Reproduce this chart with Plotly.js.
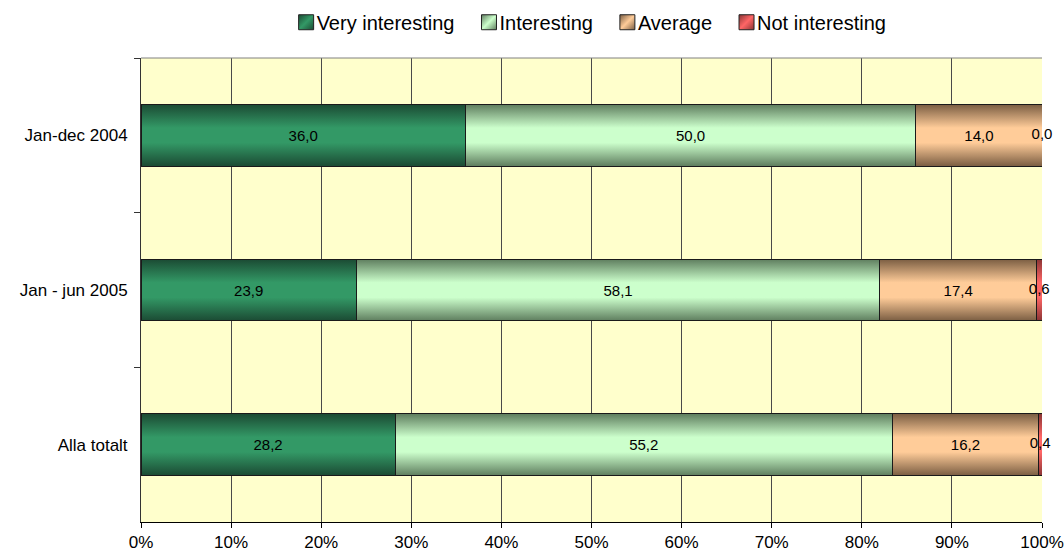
<!DOCTYPE html>
<html>
<head>
<meta charset="utf-8">
<script src="https://cdn.plot.ly/plotly-3.0.1.min.js"></script>
<style>html,body{margin:0;padding:0;background:#fff;}#chart{width:1064px;height:556px;}</style>
</head>
<body>
<div id="chart"></div>
<script>
const categories = ['Jan-dec 2004', 'Jan - jun 2005', 'Alla totalt'];
const seriesNames = ['Very interesting', 'Interesting', 'Average', 'Not interesting'];
const veryInteresting = [36.0, 23.9, 28.2];
const interesting = [50.0, 58.1, 55.2];
const average = [14.0, 17.4, 16.2];
const notInteresting = [0.0, 0.6, 0.4];
const xTickVals = [0, 10, 20, 30, 40, 50, 60, 70, 80, 90, 100];

const seriesValues = [veryInteresting, interesting, average, notInteresting];
const baseColors = ['#339966', '#CCFFCC', '#FFCC99', '#FF6666'];
const edgeColors = ['#1B4A33', '#5E7D5E', '#7A5D42', '#8A3434'];
const FONT = '"Liberation Sans", Arial, sans-serif';

const traces = seriesValues.map((vals, i) => ({
  type: 'bar',
  orientation: 'h',
  name: seriesNames[i],
  y: categories,
  x: vals,
  width: 0.4,
  marker: {color: baseColors[i], line: {color: '#1a1a1a', width: 1}},
  texttemplate: i < 3 ? '%{x:.1f}' : '',
  textposition: i < 3 ? 'inside' : 'none',
  insidetextanchor: 'middle',
  textangle: 0,
  constraintext: 'none',
  textfont: {family: FONT, size: 15, color: '#000'},
  hoverinfo: 'none'
}));

// labels for the thin last segment, placed at its centre
const lastX = categories.map((c, k) => veryInteresting[k] + interesting[k] + average[k] + notInteresting[k] / 2);
traces.push({
  type: 'scatter',
  mode: 'text',
  x: lastX,
  y: categories,
  text: notInteresting.map(v => v.toFixed(1).replace('.', ',')),
  textposition: 'middle center',
  textfont: {family: FONT, size: 15, color: '#000'},
  showlegend: false,
  hoverinfo: 'none',
  cliponaxis: false
});

const layout = {
  width: 1064,
  height: 556,
  margin: {l: 141, r: 22, t: 58, b: 34},
  paper_bgcolor: '#ffffff',
  plot_bgcolor: '#FFFFCC',
  separators: ', ',
  barmode: 'stack',
  font: {family: FONT, color: '#000'},
  showlegend: true,
  legend: {
    orientation: 'h',
    x: 0.549, xanchor: 'center', xref: 'container',
    y: 0.96, yanchor: 'middle', yref: 'container',
    font: {family: FONT, size: 20, color: '#000'},
    traceorder: 'normal',
    itemwidth: 30,
    bgcolor: 'rgba(0,0,0,0)'
  },
  xaxis: {
    range: [0, 100],
    tickvals: xTickVals,
    ticktext: xTickVals.map(v => v + '%'),
    showgrid: true,
    gridcolor: '#4a4a4a',
    gridwidth: 1,
    zeroline: false,
    showline: true,
    linecolor: '#000',
    linewidth: 1,
    ticks: 'outside',
    ticklen: 5,
    tickcolor: '#000',
    tickfont: {family: FONT, size: 17, color: '#000'},
    fixedrange: true
  },
  yaxis: {
    type: 'category',
    autorange: 'reversed',
    showgrid: false,
    zeroline: false,
    showline: true,
    linecolor: '#333',
    linewidth: 1,
    ticks: 'outside',
    tickson: 'boundaries',
    ticklen: 6,
    tickcolor: '#333',
    ticklabelstandoff: 9,
    tickfont: {family: FONT, size: 17, color: '#000'},
    fixedrange: true
  },
  shapes: [{
    type: 'line', xref: 'paper', yref: 'paper',
    x0: 0, x1: 1, y0: 1, y1: 1,
    line: {color: '#808080', width: 1}
  }]
};

Plotly.newPlot('chart', traces, layout, {staticPlot: true, displayModeBar: false}).then(gd => {
  const svg = gd.querySelector('svg.main-svg');
  const ns = 'http://www.w3.org/2000/svg';
  let defs = svg.querySelector('defs');
  if (!defs) { defs = document.createElementNS(ns, 'defs'); svg.insertBefore(defs, svg.firstChild); }
  baseColors.forEach((c, i) => {
    const g = document.createElementNS(ns, 'linearGradient');
    g.setAttribute('id', 'barGrad' + i);
    g.setAttribute('x1', '0'); g.setAttribute('y1', '0');
    g.setAttribute('x2', '0'); g.setAttribute('y2', '1');
    [[0, edgeColors[i]], [0.38, c], [0.62, c], [1, edgeColors[i]]].forEach(([o, col]) => {
      const s = document.createElementNS(ns, 'stop');
      s.setAttribute('offset', o);
      s.setAttribute('stop-color', col);
      g.appendChild(s);
    });
    defs.appendChild(g);
    const lg = document.createElementNS(ns, 'linearGradient');
    lg.setAttribute('id', 'legGrad' + i);
    lg.setAttribute('x1', '0'); lg.setAttribute('y1', '0');
    lg.setAttribute('x2', '1'); lg.setAttribute('y2', '1');
    [[0, edgeColors[i]], [0.5, c], [1, edgeColors[i]]].forEach(([o, col]) => {
      const s = document.createElementNS(ns, 'stop');
      s.setAttribute('offset', o);
      s.setAttribute('stop-color', col);
      lg.appendChild(s);
    });
    defs.appendChild(lg);
  });
  const barTraces = gd.querySelectorAll('.barlayer .trace.bars');
  barTraces.forEach((t, i) => {
    t.querySelectorAll('.point path').forEach(p => { p.style.fill = 'url(#barGrad' + i + ')'; });
  });
  const legendItems = gd.querySelectorAll('.legend .traces');
  legendItems.forEach((t, i) => {
    t.querySelectorAll('.legendpoints path').forEach(p => {
      p.setAttribute('d', 'M17,7.5H2V-7.5H17Z');
      p.style.fill = 'url(#legGrad' + i + ')';
      p.style.stroke = '#222';
      p.style.strokeWidth = '1px';
    });
  });
});
</script>
</body>
</html>
